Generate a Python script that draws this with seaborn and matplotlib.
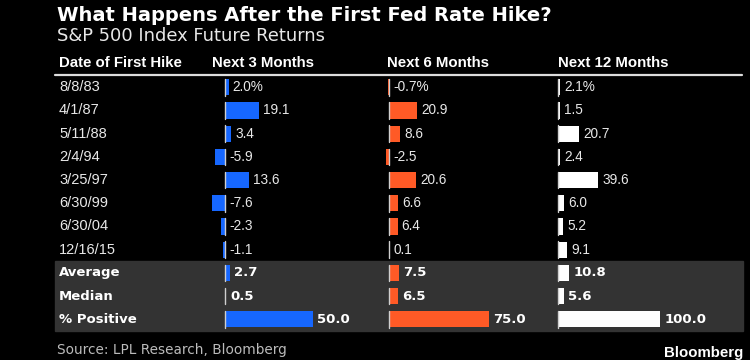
import matplotlib
matplotlib.use('Agg')
import matplotlib.pyplot as plt
import matplotlib.transforms as mtransforms
from matplotlib.patches import Rectangle
import seaborn as sns

# data
dates = ['8/8/83', '4/1/87', '5/11/88', '2/4/94', '3/25/97', '6/30/99', '6/30/04', '12/16/15']
summary = ['Average', 'Median', '% Positive']
rows = dates + summary
next_3m = [2.0, 19.1, 3.4, -5.9, 13.6, -7.6, -2.3, -1.1, 2.7, 0.5, 50.0]
next_6m = [-0.7, 20.9, 8.6, -2.5, 20.6, 6.6, 6.4, 0.1, 7.5, 6.5, 75.0]
next_12m = [2.1, 1.5, 20.7, 2.4, 39.6, 6.0, 5.2, 9.1, 10.8, 5.6, 100.0]
col_titles = ['Next 3 Months', 'Next 6 Months', 'Next 12 Months']

W, H = 750, 360
BLUE = '#1667ff'
ORANGE = '#ff5a26'
WHITE = '#ffffff'
TXT = '#e8e8e8'

sns.set_style('dark')
plt.rcParams['font.family'] = ['DejaVu Sans']

fig = plt.figure(figsize=(W / 100, H / 100), dpi=100, facecolor='black')

# background layer in pixel units
bg = fig.add_axes([0, 0, 1, 1])
bg.set_xlim(0, W)
bg.set_ylim(H, 0)
bg.axis('off')
bg.set_facecolor('black')

bg.text(57, 21, 'What Happens After the First Fed Rate Hike?', color='white',
        fontsize=14, fontweight='bold', va='baseline', ha='left')
bg.text(57, 41, 'S&P 500 Index Future Returns', color=TXT,
        fontsize=12.9, va='baseline', ha='left')
bg.text(59, 67, 'Date of First Hike', color='white', fontsize=10.8,
        fontweight='bold', family='Liberation Sans', va='baseline')
for xh, t in zip([212, 387, 558], col_titles):
    bg.text(xh, 67, t, color='white', fontsize=10.8, fontweight='bold',
            family='Liberation Sans', va='baseline')
bg.plot([55, 742], [74.5, 74.5], color='#dddddd', lw=1.6)
bg.add_patch(Rectangle((55, 261), 688, 70, color='#333333', zorder=0))
bg.text(57, 354, 'Source: LPL Research, Bloomberg', color='#bbbbbb',
        fontsize=9.8, va='baseline')
bg.text(743, 357, 'Bloomberg', color='white', fontsize=10.8, fontweight='bold',
        family='Liberation Sans', ha='right', va='baseline')

# bar columns: (left px, right px, zero px, px per unit)
top_px, bot_px = 75.7, 330.9
columns = [
    (next_3m, BLUE, 205, 380, 225, 1.76),
    (next_6m, ORANGE, 380, 550, 389, 1.33),
    (next_12m, WHITE, 550, 743, 558, 1.02),
]

n = len(rows)
for k, (vals, colr, lp, rp, zp, ppu) in enumerate(columns):
    ax = fig.add_axes([lp / W, 1 - bot_px / H, (rp - lp) / W, (bot_px - top_px) / H])
    ax.patch.set_alpha(0)
    sns.barplot(x=vals, y=rows, orient='h', color=colr, saturation=1,
                width=0.7, linewidth=0, ax=ax)
    ax.set_xlim((lp - zp) / ppu, (rp - zp) / ppu)
    ax.set_ylim(n - 0.5, -0.5)
    for i in range(n):
        ax.plot([0, 0], [i - 0.36, i + 0.36], color='#cfcfcf', lw=1)
    for i, v in enumerate(vals):
        lab = f'{v:.1f}' + ('%' if i == 0 else '')
        if i >= len(dates):
            ax.annotate(lab, (max(v, 0), i), xytext=(3, 0), textcoords='offset points',
                        va='center', ha='left', color='white', fontsize=9.5,
                        fontweight='bold')
        else:
            ax.annotate(lab, (max(v, 0), i), xytext=(3, 0), textcoords='offset points',
                        va='center', ha='left', color=TXT, fontsize=9.8,
                        family='Liberation Sans')
    ax.axis('off')
    if k == 0:
        tr = mtransforms.blended_transform_factory(fig.transFigure, ax.transData)
        for i, r in enumerate(rows):
            if i >= len(dates):
                ax.text(59 / W, i, r, transform=tr, va='center', ha='left',
                        color='white', fontsize=9.5, fontweight='bold')
            else:
                ax.text(59 / W, i, r, transform=tr, va='center', ha='left',
                        color=TXT, fontsize=10.5, family='Liberation Sans')

fig.savefig('out.png', dpi=100, facecolor='black')
